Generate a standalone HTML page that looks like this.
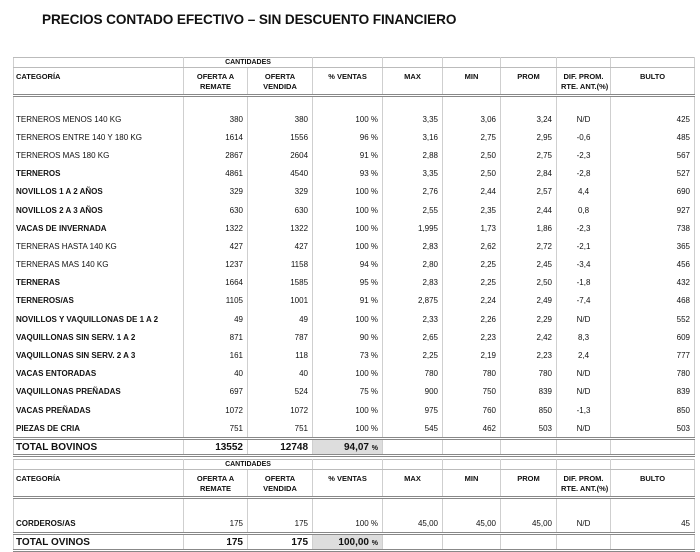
<!DOCTYPE html>
<html><head><meta charset="utf-8"><style>
body{margin:0;width:700px;height:551px;background:#fff;position:relative;overflow:hidden;font-family:"Liberation Sans",Arial,sans-serif;color:#111}
.title{position:absolute;left:42px;top:12px;font-size:13.6px;font-weight:bold;letter-spacing:-0.1px}
table{position:absolute;left:13px;border-collapse:collapse;table-layout:fixed;width:681px}
td{border-left:1px solid #cfcfcf;border-right:1px solid #cfcfcf;padding:0 4px;font-size:8px;white-space:nowrap;overflow:hidden;text-align:right}
td:first-child{text-align:left;padding-left:2px}
tr.cant td{height:9px;font-size:7px;font-weight:bold;text-align:center;border-top:1px solid #bbb;border-bottom:1px solid #bbb}
tr.hd td{height:22px;font-size:7.5px;font-weight:bold;text-align:center;vertical-align:top;padding-top:4px;border-bottom:3px double #888;line-height:10px}
tr.hd td:first-child{text-align:left}
tr.sp td{height:13px}
tr.d td{height:18.2px;padding-top:0}
tr.d td.b{font-weight:bold}
tr.d td.c{text-align:center}
tr.last td{border-bottom:3px double #888}
tr.tot td{height:14px;font-size:10px;font-weight:bold;border-bottom:3px double #888;padding-top:0}
tr.tot td.g{background:#ddd}
tr.tot small{font-size:7px}
</style></head><body>
<div class="title">PRECIOS CONTADO EFECTIVO – SIN DESCUENTO FINANCIERO</div>
<table style="top:57px">
<colgroup><col style="width:170px"><col style="width:64px"><col style="width:65px"><col style="width:70px"><col style="width:60px"><col style="width:58px"><col style="width:56px"><col style="width:54px"><col style="width:84px"></colgroup>
<tr class="cant"><td></td><td colspan="2">CANTIDADES</td><td></td><td></td><td></td><td></td><td></td><td></td></tr>
<tr class="hd"><td>CATEGORÍA</td><td>OFERTA A<br>REMATE</td><td>OFERTA<br>VENDIDA</td><td>% VENTAS</td><td>MAX</td><td>MIN</td><td>PROM</td><td>DIF. PROM.<br>RTE. ANT.(%)</td><td>BULTO</td></tr>
<tr class="sp"><td></td><td></td><td></td><td></td><td></td><td></td><td></td><td></td><td></td></tr>
<tr class="d"><td>TERNEROS MENOS 140 KG</td><td>380</td><td>380</td><td>100 %</td><td>3,35</td><td>3,06</td><td>3,24</td><td class="c">N/D</td><td>425</td></tr>
<tr class="d"><td>TERNEROS ENTRE 140 Y 180 KG</td><td>1614</td><td>1556</td><td>96 %</td><td>3,16</td><td>2,75</td><td>2,95</td><td class="c">-0,6</td><td>485</td></tr>
<tr class="d"><td>TERNEROS MAS 180 KG</td><td>2867</td><td>2604</td><td>91 %</td><td>2,88</td><td>2,50</td><td>2,75</td><td class="c">-2,3</td><td>567</td></tr>
<tr class="d"><td class="b">TERNEROS</td><td>4861</td><td>4540</td><td>93 %</td><td>3,35</td><td>2,50</td><td>2,84</td><td class="c">-2,8</td><td>527</td></tr>
<tr class="d"><td class="b">NOVILLOS 1 A 2 AÑOS</td><td>329</td><td>329</td><td>100 %</td><td>2,76</td><td>2,44</td><td>2,57</td><td class="c">4,4</td><td>690</td></tr>
<tr class="d"><td class="b">NOVILLOS 2 A 3 AÑOS</td><td>630</td><td>630</td><td>100 %</td><td>2,55</td><td>2,35</td><td>2,44</td><td class="c">0,8</td><td>927</td></tr>
<tr class="d"><td class="b">VACAS DE INVERNADA</td><td>1322</td><td>1322</td><td>100 %</td><td>1,995</td><td>1,73</td><td>1,86</td><td class="c">-2,3</td><td>738</td></tr>
<tr class="d"><td>TERNERAS HASTA 140 KG</td><td>427</td><td>427</td><td>100 %</td><td>2,83</td><td>2,62</td><td>2,72</td><td class="c">-2,1</td><td>365</td></tr>
<tr class="d"><td>TERNERAS MAS 140 KG</td><td>1237</td><td>1158</td><td>94 %</td><td>2,80</td><td>2,25</td><td>2,45</td><td class="c">-3,4</td><td>456</td></tr>
<tr class="d"><td class="b">TERNERAS</td><td>1664</td><td>1585</td><td>95 %</td><td>2,83</td><td>2,25</td><td>2,50</td><td class="c">-1,8</td><td>432</td></tr>
<tr class="d"><td class="b">TERNEROS/AS</td><td>1105</td><td>1001</td><td>91 %</td><td>2,875</td><td>2,24</td><td>2,49</td><td class="c">-7,4</td><td>468</td></tr>
<tr class="d"><td class="b">NOVILLOS Y VAQUILLONAS DE 1 A 2</td><td>49</td><td>49</td><td>100 %</td><td>2,33</td><td>2,26</td><td>2,29</td><td class="c">N/D</td><td>552</td></tr>
<tr class="d"><td class="b">VAQUILLONAS SIN SERV. 1 A 2</td><td>871</td><td>787</td><td>90 %</td><td>2,65</td><td>2,23</td><td>2,42</td><td class="c">8,3</td><td>609</td></tr>
<tr class="d"><td class="b">VAQUILLONAS SIN SERV. 2 A 3</td><td>161</td><td>118</td><td>73 %</td><td>2,25</td><td>2,19</td><td>2,23</td><td class="c">2,4</td><td>777</td></tr>
<tr class="d"><td class="b">VACAS ENTORADAS</td><td>40</td><td>40</td><td>100 %</td><td>780</td><td>780</td><td>780</td><td class="c">N/D</td><td>780</td></tr>
<tr class="d"><td class="b">VAQUILLONAS PREÑADAS</td><td>697</td><td>524</td><td>75 %</td><td>900</td><td>750</td><td>839</td><td class="c">N/D</td><td>839</td></tr>
<tr class="d"><td class="b">VACAS PREÑADAS</td><td>1072</td><td>1072</td><td>100 %</td><td>975</td><td>760</td><td>850</td><td class="c">-1,3</td><td>850</td></tr>
<tr class="d last"><td class="b">PIEZAS DE CRIA</td><td>751</td><td>751</td><td>100 %</td><td>545</td><td>462</td><td>503</td><td class="c">N/D</td><td>503</td></tr>
<tr class="tot"><td>TOTAL BOVINOS</td><td>13552</td><td>12748</td><td class="g">94,07 <small>%</small></td><td></td><td></td><td></td><td></td><td></td></tr>
</table>
<table style="top:459px">
<colgroup><col style="width:170px"><col style="width:64px"><col style="width:65px"><col style="width:70px"><col style="width:60px"><col style="width:58px"><col style="width:56px"><col style="width:54px"><col style="width:84px"></colgroup>
<tr class="cant"><td></td><td colspan="2">CANTIDADES</td><td></td><td></td><td></td><td></td><td></td><td></td></tr>
<tr class="hd"><td>CATEGORÍA</td><td>OFERTA A<br>REMATE</td><td>OFERTA<br>VENDIDA</td><td>% VENTAS</td><td>MAX</td><td>MIN</td><td>PROM</td><td>DIF. PROM.<br>RTE. ANT.(%)</td><td>BULTO</td></tr>
<tr class="sp"><td style="height:15px"></td><td></td><td></td><td></td><td></td><td></td><td></td><td></td><td></td></tr>
<tr class="d last"><td class="b">CORDEROS/AS</td><td>175</td><td>175</td><td>100 %</td><td>45,00</td><td>45,00</td><td>45,00</td><td class="c">N/D</td><td>45</td></tr>
<tr class="tot"><td>TOTAL OVINOS</td><td>175</td><td>175</td><td class="g">100,00 <small>%</small></td><td></td><td></td><td></td><td></td><td></td></tr>
</table>
</body></html>
